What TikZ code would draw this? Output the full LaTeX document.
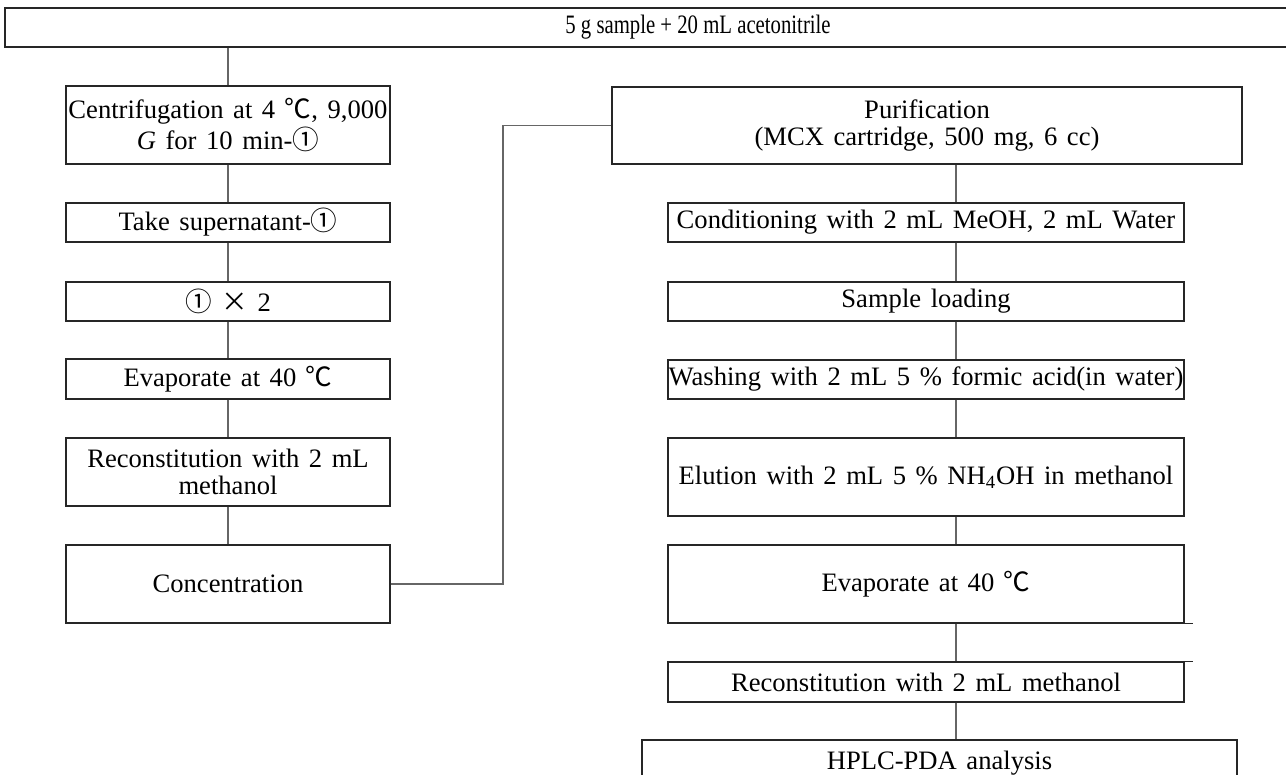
\documentclass[tikz,border=0pt]{standalone}
\usepackage{fontspec}
\setmainfont{Liberation Serif}
\newfontfamily\cjk{Noto Sans CJK KR}
\newfontfamily\topfont[FakeStretch=0.78]{Liberation Serif}
\newcommand{\dgc}{{\cjk ℃}}
\newcommand{\cone}{{\cjk ①}}
\tikzset{
  box/.style={draw=black!85, line width=0.6pt, inner sep=0pt, align=center,
    font={\fontsize{13.3}{13.8}\selectfont\spaceskip=0.36em plus 0.1em\relax}},
  conn/.style={draw=black!60, line width=0.55pt},
  tick/.style={draw=black!85, line width=0.6pt}
}
\newcommand\bx[6]{\node[box, minimum width={(#4-#2)*0.5pt}, minimum height={(#5-#3)*0.5pt}] (#1) at ({(#2+#4)/2},{(#3+#5)/2}) {#6};}
\begin{document}
\begin{tikzpicture}[x=0.5pt,y=-0.5pt]
\useasboundingbox (0,0) rectangle (1286,775);
\clip (0,0) rectangle (1286,775);
% top box
\node[box, minimum width={(1391-5)*0.5pt}, minimum height={(47-8)*0.5pt},
  font={\topfont\fontsize{13.3}{13.8}\selectfont}]
  (top) at ({(5+1391)/2},{(8+47)/2}) {5 g sample + 20 mL acetonitrile};
% left column
\bx{L1}{66}{86}{390}{164}{Centrifugation at 4 \dgc, 9,000\\\textit{G} for 10 min-\cone}
\bx{L2}{66}{203}{390}{242}{Take supernatant-\cone}
\bx{L3}{66}{282}{390}{321}{{\cjk ①\ ×} 2}
\bx{L4}{66}{359}{390}{399}{Evaporate at 40 \dgc}
\bx{L5}{66}{438}{390}{506}{Reconstitution with 2 mL\\methanol}
\bx{L6}{66}{545}{390}{623}{Concentration}
% right column
\bx{R1}{612}{87}{1242}{164}{Purification\\(MCX cartridge, 500 mg, 6 cc)}
\bx{R2}{668}{203}{1184}{242}{Conditioning with 2 mL MeOH, 2 mL Water}
\bx{R3}{668}{282}{1184}{321}{Sample loading}
\bx{R4}{668}{360}{1184}{399}{Washing with 2 mL 5 \% formic acid(in water)}
\bx{R5}{668}{438}{1184}{516}{Elution with 2 mL 5 \% NH\textsubscript{4}OH in methanol}
\bx{R6}{668}{545}{1184}{623}{Evaporate at 40 \dgc}
\bx{R7}{668}{662}{1184}{702}{Reconstitution with 2 mL methanol}
\bx{R8}{642}{740}{1237}{786}{HPLC-PDA analysis}
\coordinate (rc) at (956,0);
\coordinate (bend) at (503,0);
% left connectors
\draw[conn] (L1.north |- top.south) -- (L1.north);
\draw[conn] (L1.south) -- (L2.north);
\draw[conn] (L2.south) -- (L3.north);
\draw[conn] (L3.south) -- (L4.north);
\draw[conn] (L4.south) -- (L5.north);
\draw[conn] (L5.south) -- (L6.north);
\draw[conn] (L6.east) -- (L6.east -| bend) -- (R1.west -| bend) -- (R1.west);
% right connectors
\draw[conn] (R1.south -| rc) -- (R2.north -| rc);
\draw[conn] (R2.south -| rc) -- (R3.north -| rc);
\draw[conn] (R3.south -| rc) -- (R4.north -| rc);
\draw[conn] (R4.south -| rc) -- (R5.north -| rc);
\draw[conn] (R5.south -| rc) -- (R6.north -| rc);
\draw[conn] (R6.south -| rc) -- (R7.north -| rc);
\draw[conn] (R7.south -| rc) -- (R8.north -| rc);
% small ticks
\draw[tick] (R6.south east) -- ++(8,0);
\draw[tick] (R7.north east) -- ++(8,0);
\end{tikzpicture}
\end{document}
